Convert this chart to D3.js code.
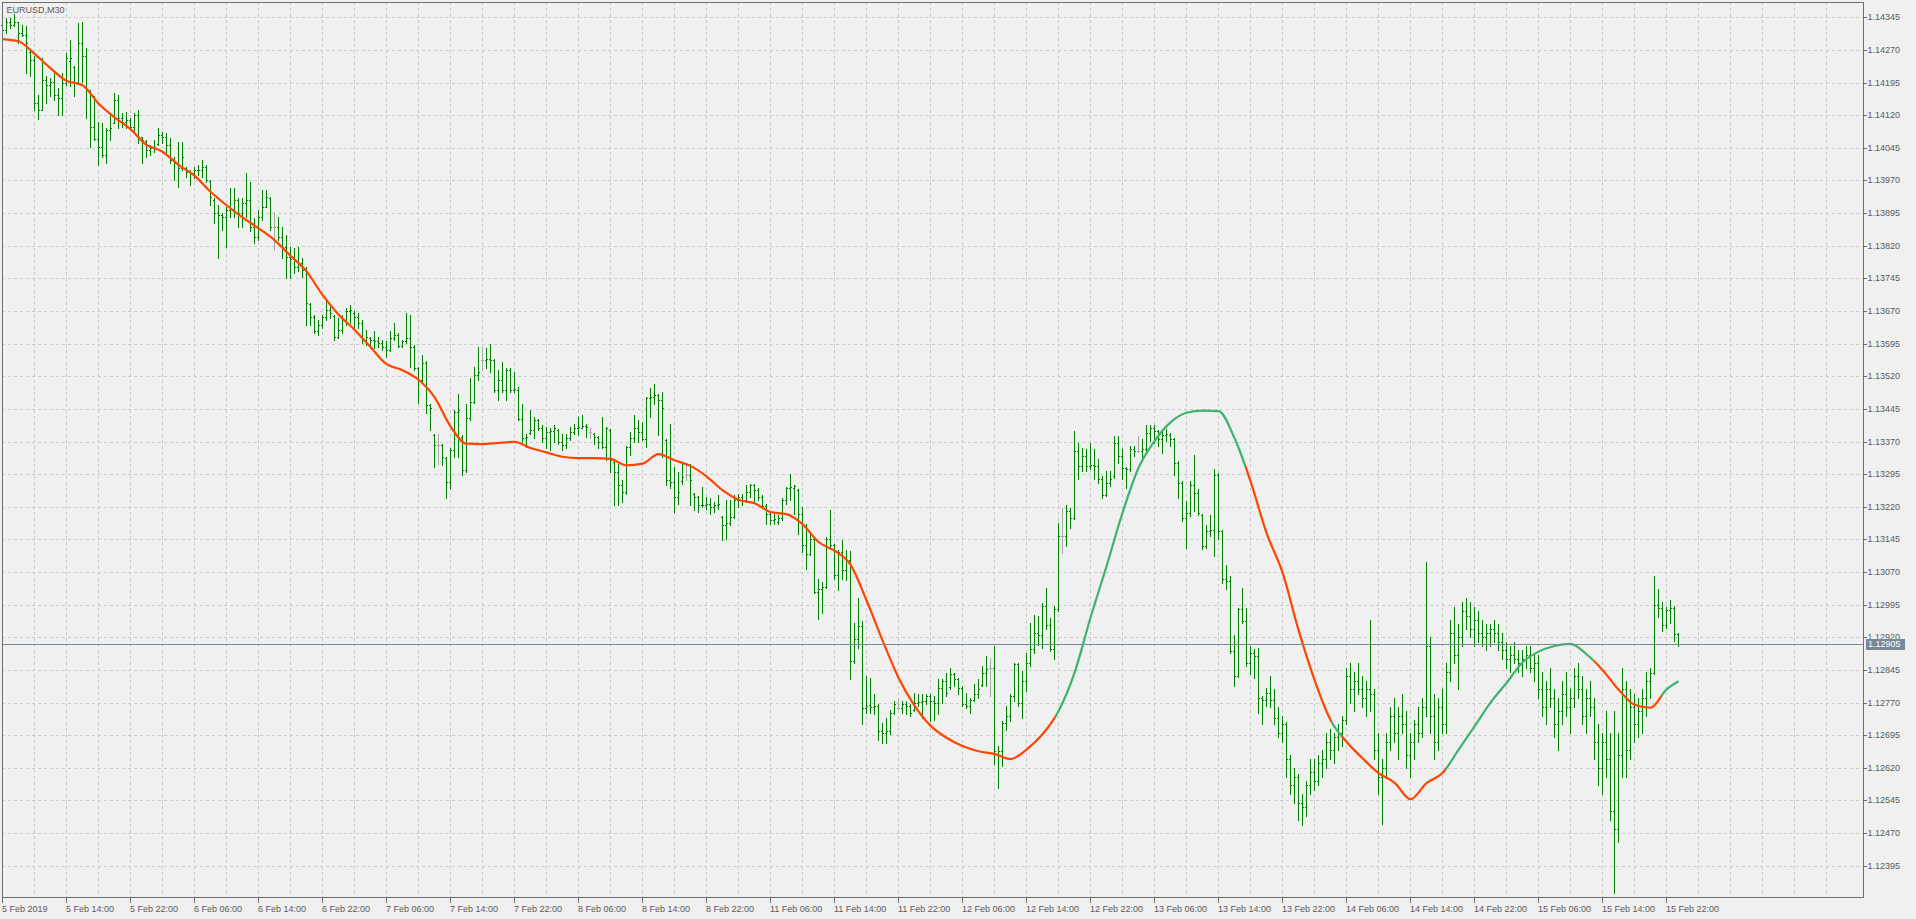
<!DOCTYPE html>
<html><head><meta charset="utf-8">
<script src="https://cdn.jsdelivr.net/npm/d3@7"></script>
<style>html,body{margin:0;padding:0;background:#f0f0f0;overflow:hidden}svg{display:block}</style>
</head><body><svg id="c" width="1916" height="919"></svg>
<script>
const symbolTitle = "EURUSD,M30";
const lastPrice = 1.12905;
const priceTicks = [1.14345,1.14270,1.14195,1.14120,1.14045,1.13970,1.13895,1.13820,1.13745,1.13670,1.13595,1.13520,1.13445,1.13370,1.13295,1.13220,1.13145,1.13070,1.12995,1.12920,1.12845,1.12770,1.12695,1.12620,1.12545,1.12470,1.12395];
const timeLabels = ["5 Feb 2019","5 Feb 14:00","5 Feb 22:00","6 Feb 06:00","6 Feb 14:00","6 Feb 22:00","7 Feb 06:00","7 Feb 14:00","7 Feb 22:00","8 Feb 06:00","8 Feb 14:00","8 Feb 22:00","11 Feb 06:00","11 Feb 14:00","11 Feb 22:00","12 Feb 06:00","12 Feb 14:00","12 Feb 22:00","13 Feb 06:00","13 Feb 14:00","13 Feb 22:00","14 Feb 06:00","14 Feb 14:00","14 Feb 22:00","15 Feb 06:00","15 Feb 14:00","15 Feb 22:00"];
const timeLabelBars = [0,16,32,48,64,80,96,112,128,144,160,176,192,208,224,240,256,272,288,304,320,336,352,368,384,400,416];

const barOpen = [
1.14327,1.14316,1.14335,1.14327,1.14334,1.14308,1.14305,1.14265,1.14247,1.14147,
1.14132,1.14201,1.14190,1.14197,1.14167,1.14159,1.14193,1.14245,1.14230,1.14197,
1.14285,1.14255,1.14175,1.14094,1.14066,1.14048,1.14029,1.14086,1.14103,1.14155,
1.14113,1.14105,1.14109,1.14094,1.14120,1.14069,1.14060,1.14040,1.14044,1.14054,
1.14075,1.14070,1.14052,1.14017,1.14010,1.13998,1.13998,1.13990,1.13987,1.13994,
1.13995,1.14002,1.13968,1.13926,1.13895,1.13890,1.13887,1.13902,1.13905,1.13925,
1.13895,1.13918,1.13925,1.13864,1.13841,1.13887,1.13910,1.13930,1.13864,1.13864,
1.13841,1.13818,1.13795,1.13790,1.13772,1.13780,1.13764,1.13685,1.13657,1.13623,
1.13638,1.13657,1.13672,1.13658,1.13611,1.13627,1.13649,1.13669,1.13666,1.13657,
1.13642,1.13604,1.13609,1.13604,1.13600,1.13596,1.13588,1.13581,1.13607,1.13615,
1.13590,1.13600,1.13607,1.13588,1.13538,1.13512,1.13550,1.13454,1.13385,1.13361,
1.13361,1.13332,1.13277,1.13350,1.13438,1.13380,1.13304,1.13423,1.13461,1.13522,
1.13557,1.13557,1.13560,1.13557,1.13488,1.13511,1.13488,1.13534,1.13488,1.13488,
1.13422,1.13377,1.13390,1.13396,1.13419,1.13400,1.13377,1.13392,1.13395,1.13396,
1.13369,1.13361,1.13377,1.13392,1.13400,1.13402,1.13406,1.13392,1.13388,1.13381,
1.13369,1.13358,1.13396,1.13323,1.13300,1.13269,1.13254,1.13358,1.13377,1.13400,
1.13392,1.13375,1.13469,1.13472,1.13476,1.13465,1.13373,1.13281,1.13277,1.13243,
1.13280,1.13292,1.13292,1.13250,1.13243,1.13223,1.13225,1.13227,1.13220,1.13223,
1.13197,1.13178,1.13182,1.13197,1.13235,1.13243,1.13235,1.13254,1.13269,1.13258,
1.13243,1.13222,1.13204,1.13189,1.13186,1.13195,1.13235,1.13262,1.13264,1.13258,
1.13204,1.13132,1.13112,1.13147,1.13024,1.13032,1.13036,1.13147,1.13132,1.13063,
1.13116,1.13074,1.13097,1.12865,1.12915,1.12946,1.12758,1.12765,1.12760,1.12762,
1.12704,1.12701,1.12704,1.12747,1.12758,1.12758,1.12766,1.12762,1.12754,1.12769,
1.12771,1.12773,1.12785,1.12773,1.12769,1.12804,1.12819,1.12805,1.12835,1.12823,
1.12804,1.12766,1.12762,1.12777,1.12789,1.12810,1.12838,1.12850,1.12850,1.12650,
1.12658,1.12724,1.12739,1.12785,1.12858,1.12769,1.12819,1.12861,1.12892,1.12930,
1.12926,1.12992,1.12949,1.12892,1.12984,1.13152,1.13152,1.13210,1.13195,1.13348,
1.13313,1.13336,1.13313,1.13317,1.13313,1.13283,1.13248,1.13275,1.13290,1.13367,
1.13336,1.13309,1.13306,1.13352,1.13348,1.13348,1.13352,1.13390,1.13401,1.13394,
1.13375,1.13386,1.13386,1.13375,1.13321,1.13275,1.13195,1.13206,1.13271,1.13252,
1.13202,1.13129,1.13164,1.13166,1.13294,1.13164,1.13053,1.13050,1.12888,1.12831,
1.12984,1.12957,1.12861,1.12884,1.12877,1.12781,1.12777,1.12792,1.12775,1.12735,
1.12700,1.12720,1.12640,1.12580,1.12600,1.12540,1.12530,1.12580,1.12610,1.12590,
1.12630,1.12640,1.12680,1.12660,1.12690,1.12700,1.12730,1.12830,1.12800,1.12820,
1.12800,1.12780,1.12800,1.12790,1.12660,1.12600,1.12620,1.12680,1.12740,1.12700,
1.12740,1.12720,1.12650,1.12680,1.12720,1.12700,1.12760,1.12900,1.12740,1.12680,
1.12760,1.12720,1.12840,1.12930,1.12880,1.12920,1.12980,1.12970,1.12940,1.12960,
1.12930,1.12920,1.12930,1.12940,1.12930,1.12910,1.12890,1.12870,1.12880,1.12870,
1.12860,1.12870,1.12880,1.12850,1.12860,1.12800,1.12760,1.12800,1.12780,1.12720,
1.12750,1.12790,1.12760,1.12780,1.12830,1.12800,1.12740,1.12780,1.12760,1.12680,
1.12620,1.12680,1.12640,1.12520,1.12480,1.12650,1.12800,1.12660,1.12760,1.12720,
1.12750,1.12780,1.12820,1.12839,1.12995,1.12987,1.12948,1.12983,1.12987,1.12928];

const barHigh = [
1.14331,1.14343,1.14343,1.14353,1.14335,1.14327,1.14324,1.14270,1.14255,1.14167,
1.14251,1.14209,1.14205,1.14220,1.14182,1.14216,1.14262,1.14293,1.14232,1.14331,
1.14335,1.14274,1.14178,1.14163,1.14105,1.14101,1.14090,1.14121,1.14170,1.14167,
1.14124,1.14128,1.14113,1.14124,1.14132,1.14071,1.14063,1.14052,1.14063,1.14090,
1.14082,1.14078,1.14067,1.14025,1.14059,1.14059,1.14002,1.13994,1.14002,1.14006,
1.14017,1.14006,1.13971,1.13929,1.13914,1.13895,1.13910,1.13952,1.13952,1.13929,
1.13929,1.13987,1.13967,1.13883,1.13902,1.13948,1.13948,1.13933,1.13898,1.13887,
1.13864,1.13845,1.13818,1.13814,1.13818,1.13791,1.13772,1.13688,1.13661,1.13649,
1.13661,1.13692,1.13680,1.13661,1.13653,1.13661,1.13676,1.13684,1.13669,1.13665,
1.13649,1.13627,1.13611,1.13623,1.13611,1.13604,1.13600,1.13623,1.13642,1.13619,
1.13604,1.13665,1.13661,1.13592,1.13542,1.13569,1.13554,1.13457,1.13388,1.13388,
1.13365,1.13335,1.13354,1.13442,1.13480,1.13384,1.13457,1.13515,1.13541,1.13587,
1.13587,1.13584,1.13595,1.13560,1.13534,1.13553,1.13538,1.13538,1.13530,1.13495,
1.13457,1.13388,1.13442,1.13426,1.13422,1.13407,1.13404,1.13400,1.13407,1.13398,
1.13388,1.13388,1.13404,1.13411,1.13426,1.13430,1.13411,1.13400,1.13390,1.13383,
1.13426,1.13404,1.13398,1.13325,1.13319,1.13281,1.13360,1.13392,1.13430,1.13419,
1.13415,1.13472,1.13492,1.13503,1.13479,1.13484,1.13376,1.13411,1.13312,1.13300,
1.13323,1.13319,1.13319,1.13252,1.13245,1.13266,1.13243,1.13239,1.13231,1.13246,
1.13199,1.13235,1.13235,1.13246,1.13250,1.13250,1.13269,1.13273,1.13273,1.13262,
1.13246,1.13227,1.13206,1.13204,1.13200,1.13239,1.13266,1.13296,1.13269,1.13260,
1.13220,1.13181,1.13162,1.13151,1.13055,1.13047,1.13151,1.13212,1.13135,1.13120,
1.13143,1.13120,1.13118,1.12953,1.13011,1.12957,1.12831,1.12827,1.12789,1.12766,
1.12724,1.12735,1.12754,1.12773,1.12781,1.12773,1.12773,1.12766,1.12792,1.12789,
1.12789,1.12789,1.12789,1.12785,1.12823,1.12823,1.12838,1.12850,1.12838,1.12827,
1.12807,1.12792,1.12781,1.12812,1.12823,1.12854,1.12877,1.12873,1.12900,1.12670,
1.12727,1.12762,1.12789,1.12861,1.12861,1.12842,1.12884,1.12953,1.12972,1.12969,
1.12999,1.13034,1.12965,1.12992,1.13183,1.13218,1.13225,1.13218,1.13394,1.13367,
1.13355,1.13352,1.13367,1.13352,1.13329,1.13290,1.13302,1.13302,1.13382,1.13382,
1.13352,1.13312,1.13359,1.13359,1.13382,1.13375,1.13409,1.13409,1.13409,1.13397,
1.13394,1.13398,1.13390,1.13378,1.13325,1.13279,1.13233,1.13279,1.13340,1.13260,
1.13204,1.13179,1.13202,1.13306,1.13297,1.13167,1.13087,1.13061,1.12926,1.12988,
1.13034,1.12988,1.12900,1.12892,1.12896,1.12785,1.12804,1.12830,1.12800,1.12760,
1.12740,1.12725,1.12650,1.12620,1.12605,1.12560,1.12590,1.12640,1.12640,1.12650,
1.12660,1.12700,1.12710,1.12700,1.12720,1.12740,1.12850,1.12860,1.12840,1.12860,
1.12830,1.12820,1.12960,1.12800,1.12700,1.12640,1.12700,1.12760,1.12780,1.12760,
1.12790,1.12750,1.12700,1.12730,1.12760,1.12780,1.13092,1.12920,1.12790,1.12780,
1.12800,1.12860,1.12960,1.12990,1.12950,1.13000,1.13010,1.13000,1.12990,1.12980,
1.12960,1.12950,1.12950,1.12960,1.12950,1.12930,1.12910,1.12900,1.12910,1.12890,
1.12890,1.12900,1.12900,1.12880,1.12880,1.12840,1.12820,1.12850,1.12800,1.12780,
1.12820,1.12840,1.12800,1.12850,1.12860,1.12830,1.12800,1.12820,1.12780,1.12720,
1.12700,1.12750,1.12700,1.12750,1.12700,1.12850,1.12820,1.12800,1.12790,1.12780,
1.12800,1.12840,1.12849,1.13060,1.13031,1.13002,1.12990,1.13006,1.12992,1.12929];

const barLow = [
1.14308,1.14308,1.14320,1.14324,1.14285,1.14301,1.14218,1.14209,1.14132,1.14111,
1.14132,1.14147,1.14163,1.14155,1.14121,1.14121,1.14190,1.14186,1.14163,1.14197,
1.14197,1.14113,1.14048,1.14063,1.14006,1.14025,1.14010,1.14063,1.14101,1.14090,
1.14094,1.14090,1.14086,1.14082,1.14055,1.14010,1.14025,1.14029,1.14036,1.14052,
1.14055,1.14036,1.14010,1.13971,1.13956,1.13994,1.13979,1.13960,1.13975,1.13983,
1.13979,1.13967,1.13914,1.13872,1.13791,1.13856,1.13818,1.13887,1.13887,1.13864,
1.13864,1.13887,1.13853,1.13826,1.13833,1.13879,1.13910,1.13856,1.13810,1.13833,
1.13791,1.13745,1.13745,1.13757,1.13761,1.13749,1.13638,1.13638,1.13619,1.13615,
1.13630,1.13649,1.13653,1.13603,1.13607,1.13619,1.13638,1.13642,1.13630,1.13630,
1.13596,1.13592,1.13584,1.13584,1.13588,1.13581,1.13565,1.13578,1.13604,1.13588,
1.13588,1.13597,1.13542,1.13535,1.13458,1.13504,1.13435,1.13396,1.13312,1.13319,
1.13315,1.13239,1.13262,1.13335,1.13335,1.13292,1.13300,1.13420,1.13458,1.13511,
1.13534,1.13538,1.13530,1.13484,1.13465,1.13484,1.13465,1.13484,1.13484,1.13419,
1.13369,1.13358,1.13388,1.13377,1.13396,1.13369,1.13354,1.13350,1.13369,1.13365,
1.13350,1.13354,1.13373,1.13388,1.13384,1.13400,1.13381,1.13377,1.13365,1.13354,
1.13354,1.13327,1.13300,1.13223,1.13223,1.13231,1.13250,1.13338,1.13369,1.13369,
1.13373,1.13358,1.13426,1.13457,1.13384,1.13335,1.13269,1.13262,1.13208,1.13227,
1.13273,1.13281,1.13223,1.13212,1.13208,1.13220,1.13216,1.13204,1.13208,1.13216,
1.13143,1.13147,1.13179,1.13194,1.13220,1.13223,1.13231,1.13243,1.13231,1.13235,
1.13220,1.13181,1.13181,1.13181,1.13181,1.13189,1.13227,1.13235,1.13204,1.13158,
1.13116,1.13078,1.13109,1.13021,1.12963,1.12975,1.13033,1.13128,1.13055,1.13028,
1.13055,1.13051,1.12823,1.12862,1.12896,1.12720,1.12747,1.12747,1.12743,1.12685,
1.12678,1.12678,1.12697,1.12743,1.12755,1.12747,1.12743,1.12739,1.12751,1.12762,
1.12735,1.12766,1.12727,1.12731,1.12743,1.12769,1.12785,1.12800,1.12808,1.12789,
1.12762,1.12758,1.12747,1.12773,1.12781,1.12808,1.12808,1.12785,1.12628,1.12574,
1.12624,1.12708,1.12727,1.12773,1.12762,1.12735,1.12796,1.12854,1.12884,1.12903,
1.12896,1.12938,1.12888,1.12869,1.12981,1.13114,1.13129,1.13172,1.13191,1.13283,
1.13302,1.13302,1.13306,1.13283,1.13275,1.13240,1.13244,1.13267,1.13287,1.13320,
1.13283,1.13263,1.13303,1.13336,1.13345,1.13332,1.13344,1.13371,1.13367,1.13359,
1.13344,1.13371,1.13359,1.13294,1.13240,1.13187,1.13126,1.13198,1.13210,1.13202,
1.13122,1.13126,1.13152,1.13106,1.13145,1.13045,1.13030,1.12884,1.12808,1.12828,
1.12953,1.12854,1.12835,1.12827,1.12747,1.12720,1.12762,1.12760,1.12720,1.12690,
1.12680,1.12600,1.12560,1.12540,1.12500,1.12488,1.12510,1.12560,1.12570,1.12580,
1.12600,1.12620,1.12640,1.12630,1.12660,1.12670,1.12720,1.12770,1.12750,1.12790,
1.12760,1.12740,1.12750,1.12640,1.12560,1.12490,1.12600,1.12660,1.12680,1.12640,
1.12700,1.12620,1.12600,1.12640,1.12680,1.12690,1.12740,1.12700,1.12640,1.12660,
1.12700,1.12700,1.12820,1.12860,1.12800,1.12900,1.12940,1.12920,1.12900,1.12910,
1.12900,1.12890,1.12900,1.12910,1.12890,1.12870,1.12850,1.12840,1.12860,1.12840,
1.12830,1.12850,1.12840,1.12820,1.12780,1.12740,1.12720,1.12760,1.12690,1.12660,
1.12720,1.12740,1.12700,1.12760,1.12780,1.12720,1.12700,1.12740,1.12640,1.12580,
1.12560,1.12600,1.12500,1.12333,1.12450,1.12600,1.12600,1.12640,1.12680,1.12690,
1.12700,1.12740,1.12780,1.12836,1.12966,1.12935,1.12941,1.12952,1.12912,1.12901];

const barClose = [
1.14316,1.14335,1.14327,1.14334,1.14308,1.14305,1.14285,1.14247,1.14147,1.14132,
1.14201,1.14190,1.14197,1.14167,1.14159,1.14193,1.14251,1.14251,1.14197,1.14285,
1.14255,1.14178,1.14094,1.14066,1.14048,1.14029,1.14086,1.14090,1.14155,1.14113,
1.14105,1.14109,1.14094,1.14120,1.14071,1.14063,1.14040,1.14044,1.14048,1.14075,
1.14070,1.14052,1.14017,1.14010,1.13998,1.14025,1.13990,1.13987,1.13994,1.13995,
1.14002,1.13970,1.13933,1.13895,1.13890,1.13887,1.13902,1.13905,1.13925,1.13895,
1.13918,1.13925,1.13864,1.13841,1.13887,1.13910,1.13933,1.13864,1.13864,1.13841,
1.13818,1.13795,1.13790,1.13772,1.13780,1.13764,1.13688,1.13657,1.13623,1.13638,
1.13657,1.13672,1.13665,1.13611,1.13627,1.13649,1.13669,1.13672,1.13657,1.13642,
1.13604,1.13611,1.13604,1.13600,1.13596,1.13588,1.13581,1.13607,1.13615,1.13590,
1.13600,1.13607,1.13588,1.13538,1.13512,1.13550,1.13454,1.13448,1.13361,1.13361,
1.13335,1.13277,1.13350,1.13438,1.13442,1.13304,1.13423,1.13461,1.13522,1.13530,
1.13557,1.13560,1.13557,1.13488,1.13511,1.13488,1.13534,1.13488,1.13490,1.13422,
1.13377,1.13380,1.13396,1.13419,1.13400,1.13377,1.13392,1.13395,1.13400,1.13369,
1.13361,1.13377,1.13392,1.13400,1.13404,1.13406,1.13404,1.13392,1.13381,1.13369,
1.13358,1.13400,1.13327,1.13300,1.13269,1.13254,1.13358,1.13377,1.13400,1.13392,
1.13375,1.13469,1.13472,1.13476,1.13465,1.13446,1.13281,1.13277,1.13243,1.13254,
1.13289,1.13292,1.13281,1.13243,1.13223,1.13225,1.13227,1.13220,1.13223,1.13226,
1.13178,1.13182,1.13197,1.13235,1.13243,1.13235,1.13254,1.13269,1.13258,1.13243,
1.13222,1.13204,1.13189,1.13192,1.13195,1.13235,1.13262,1.13266,1.13268,1.13204,
1.13132,1.13112,1.13147,1.13024,1.13032,1.13036,1.13147,1.13132,1.13063,1.13116,
1.13074,1.13097,1.12865,1.12915,1.12946,1.12758,1.12762,1.12760,1.12762,1.12704,
1.12701,1.12704,1.12747,1.12766,1.12758,1.12766,1.12762,1.12747,1.12769,1.12771,
1.12773,1.12785,1.12773,1.12769,1.12804,1.12819,1.12792,1.12835,1.12823,1.12804,
1.12766,1.12762,1.12777,1.12789,1.12800,1.12838,1.12846,1.12850,1.12658,1.12658,
1.12724,1.12739,1.12785,1.12858,1.12769,1.12819,1.12861,1.12892,1.12930,1.12926,
1.12992,1.12949,1.12892,1.12984,1.13152,1.13152,1.13210,1.13195,1.13348,1.13313,
1.13336,1.13313,1.13317,1.13313,1.13283,1.13248,1.13275,1.13283,1.13367,1.13336,
1.13309,1.13306,1.13352,1.13348,1.13348,1.13352,1.13390,1.13401,1.13394,1.13375,
1.13386,1.13388,1.13375,1.13321,1.13275,1.13195,1.13206,1.13271,1.13252,1.13206,
1.13129,1.13164,1.13166,1.13294,1.13164,1.13053,1.13050,1.12888,1.12831,1.12984,
1.12957,1.12861,1.12884,1.12877,1.12781,1.12777,1.12792,1.12775,1.12735,1.12700,
1.12720,1.12640,1.12580,1.12600,1.12540,1.12530,1.12580,1.12610,1.12590,1.12630,
1.12640,1.12680,1.12660,1.12690,1.12700,1.12730,1.12830,1.12800,1.12820,1.12800,
1.12780,1.12800,1.12790,1.12660,1.12600,1.12620,1.12680,1.12740,1.12700,1.12740,
1.12720,1.12650,1.12680,1.12720,1.12700,1.12760,1.12900,1.12740,1.12680,1.12760,
1.12720,1.12840,1.12930,1.12880,1.12920,1.12980,1.12970,1.12940,1.12960,1.12930,
1.12920,1.12930,1.12940,1.12930,1.12910,1.12890,1.12870,1.12880,1.12870,1.12860,
1.12870,1.12880,1.12850,1.12860,1.12800,1.12760,1.12800,1.12780,1.12720,1.12750,
1.12790,1.12760,1.12780,1.12830,1.12800,1.12740,1.12780,1.12760,1.12680,1.12620,
1.12680,1.12640,1.12520,1.12480,1.12650,1.12800,1.12660,1.12760,1.12720,1.12750,
1.12780,1.12820,1.12839,1.12995,1.12987,1.12948,1.12983,1.12987,1.12928,1.12905];

const maBars = [0,4,8,12,16,20,24,28,32,36,40,44,48,52,56,60,64,68,72,76,80,84,88,92,96,100,104,108,112,116,120,124,128,132,136,140,144,148,152,156,160,164,168,172,176,180,184,188,192,196,200,204,208,212,216,220,224,228,232,236,240,244,248,252,256,260,264,268,272,276,280,284,288,292,296,300,304,308,312,316,320,324,328,332,336,340,344,348,352,356,360,364,368,372,376,380,384,388,392,396,400,404,408,412,416,419];
const maValues = [
1.14295,1.14290,1.14261,1.14228,1.14199,1.14189,1.14147,1.14115,1.14088,1.14052,
1.14036,1.14006,1.13981,1.13944,1.13913,1.13885,1.13860,1.13833,1.13797,1.13761,
1.13707,1.13662,1.13627,1.13587,1.13548,1.13534,1.13512,1.13472,1.13405,1.13365,
1.13364,1.13367,1.13369,1.13355,1.13345,1.13335,1.13332,1.13332,1.13330,1.13315,
1.13319,1.13341,1.13327,1.13314,1.13290,1.13258,1.13236,1.13228,1.13208,1.13203,
1.13180,1.13139,1.13119,1.13087,1.13005,1.12913,1.12827,1.12763,1.12717,1.12689,
1.12670,1.12658,1.12652,1.12640,1.12662,1.12697,1.12750,1.12838,1.12965,1.13083,
1.13206,1.13309,1.13371,1.13414,1.13436,1.13441,1.13440,1.13378,1.13279,1.13160,
1.13069,1.12937,1.12822,1.12730,1.12680,1.12642,1.12608,1.12586,1.12548,1.12585,
1.12608,1.12661,1.12715,1.12770,1.12815,1.12862,1.12887,1.12900,1.12905,1.12881,
1.12845,1.12800,1.12765,1.12758,1.12800,1.12819];
const trendStartBars = [0,263,311,332,335,361,398,415];
const trendDirs = ["down","up","down","up","down","up","down","up"];

const W = 1916, H = 919;
const L = 2, T = 2, R = 1863, B = 897;
const FONT = "'Liberation Sans', Arial, sans-serif";
const colBar = "#008000", colDoji = "#a8a8a8", colGrid = "#cbcbcb";
const colDown = "#ff4500", colUp = "#3cb371", colFrame = "#6e6e6e", colText = "#5a5a5a";

const svg = d3.select("#c");
const y = d3.scaleLinear().domain([1.12395, 1.14345]).range([865.7, 17.3]);
const x = d3.scaleLinear().domain([0, 419]).range([2.5, 1678.5]);
const row = v => Math.round(y(v));

svg.append("rect").attr("width", W).attr("height", H).attr("fill", "#f0f0f0");

// grid
const grid = svg.append("g").attr("stroke", colGrid).attr("stroke-dasharray", "3,3").attr("shape-rendering", "crispEdges");
grid.selectAll("line.h").data(priceTicks).join("line").attr("class", "h")
  .attr("x1", L).attr("x2", R).attr("y1", d => row(d) + 0.5).attr("y2", d => row(d) + 0.5);
const vBars = d3.range(8, 460, 8).filter(b => x(b) < R - 1);
grid.selectAll("line.v").data(vBars).join("line").attr("class", "v")
  .attr("x1", d => x(d)).attr("x2", d => x(d)).attr("y1", T).attr("y2", B);

// bars
const bars = d3.range(barOpen.length).map(i => ({i, o: barOpen[i], h: barHigh[i], l: barLow[i], c: barClose[i]}));
const gb = svg.append("g").attr("shape-rendering", "crispEdges");
const bg = gb.selectAll("g").data(bars).join("g").attr("fill", d => d.o === d.c ? colDoji : colBar);
bg.append("rect").attr("x", d => x(d.i) - 0.5).attr("y", d => row(d.h)).attr("width", 1).attr("height", d => row(d.l) - row(d.h) + 1);
bg.append("rect").attr("x", d => x(d.i) - 1.5).attr("y", d => row(d.o)).attr("width", 1).attr("height", 1);
bg.append("rect").attr("x", d => x(d.i) + 0.5).attr("y", d => row(d.c)).attr("width", 1).attr("height", 1);

// moving average with trend colours
const defs = svg.append("defs");
const grad = defs.append("linearGradient").attr("id", "maGrad").attr("gradientUnits", "userSpaceOnUse")
  .attr("x1", 0).attr("x2", W).attr("y1", 0).attr("y2", 0);
trendStartBars.forEach((b, k) => {
  const col = trendDirs[k] === "up" ? colUp : colDown;
  const s = k === 0 ? 0 : x(b) / W;
  const e = k === trendStartBars.length - 1 ? 1 : x(trendStartBars[k + 1]) / W;
  grad.append("stop").attr("offset", s).attr("stop-color", col);
  grad.append("stop").attr("offset", e).attr("stop-color", col);
});
const maData = maBars.map((b, k) => ({b, v: maValues[k]}));
svg.append("path").datum(maData)
  .attr("d", d3.line().x(d => x(d.b)).y(d => y(d.v)).curve(d3.curveMonotoneX))
  .attr("fill", "none").attr("stroke", "url(#maGrad)").attr("stroke-width", 2.2).attr("stroke-linejoin", "round");

// current price line
svg.append("line").attr("x1", L).attr("x2", R).attr("y1", row(lastPrice) + 0.5).attr("y2", row(lastPrice) + 0.5)
  .attr("stroke", "#778899").attr("shape-rendering", "crispEdges");

// frame
svg.append("rect").attr("x", L + 0.5).attr("y", T + 0.5).attr("width", R - L).attr("height", B - T)
  .attr("fill", "none").attr("stroke", colFrame).attr("shape-rendering", "crispEdges");

// right price axis
const ya = svg.append("g").attr("transform", `translate(${R + 0.5},0)`)
  .call(d3.axisRight(y).tickValues(priceTicks).tickSize(3).tickPadding(1).tickFormat(d => d.toFixed(5)).offset(0));
ya.select(".domain").remove();
ya.selectAll(".tick").attr("transform", d => `translate(0,${row(d) + 0.5})`);
ya.selectAll(".tick line").attr("stroke", colFrame).attr("shape-rendering", "crispEdges");
ya.selectAll(".tick text").attr("fill", colText).style("font", `9px ${FONT}`);

// bottom time axis
const xa = svg.append("g").attr("transform", `translate(0,${B + 0.5})`)
  .call(d3.axisBottom(x).tickValues(timeLabelBars).tickSize(5).tickPadding(3).tickFormat((d, i) => timeLabels[i]).offset(0));
xa.select(".domain").remove();
xa.selectAll(".tick line").attr("stroke", colFrame).attr("shape-rendering", "crispEdges");
xa.selectAll(".tick text").attr("fill", colText).attr("text-anchor", "start").attr("x", -0.5).style("font", `9px ${FONT}`);

// last price box
const ly = row(lastPrice) + 0.5;
svg.append("rect").attr("x", R + 3).attr("y", ly - 5.5).attr("width", 39).attr("height", 11).attr("fill", "#778899");
svg.append("text").attr("x", R + 5).attr("y", ly).attr("dy", "0.32em").attr("fill", "#ffffff")
  .style("font", `9px ${FONT}`).text(lastPrice.toFixed(5));

// title
svg.append("text").attr("x", 6.5).attr("y", 12.5).attr("fill", colText).style("font", `9px ${FONT}`).text(symbolTitle);
</script></body></html>
